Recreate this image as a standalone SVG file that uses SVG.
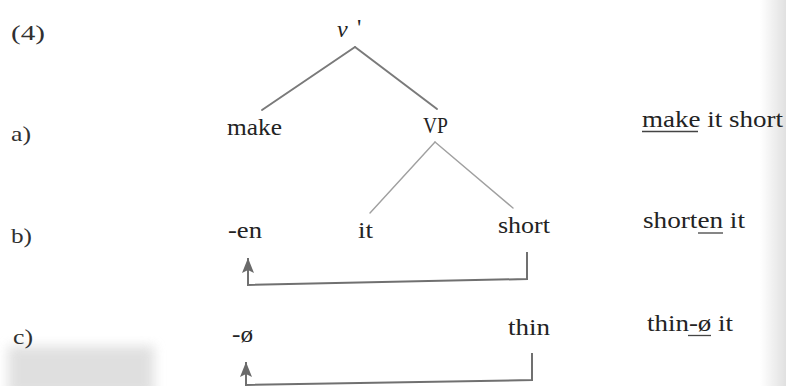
<svg xmlns="http://www.w3.org/2000/svg" width="786" height="386" viewBox="0 0 786 386">
<style>
.t{font-family:"Liberation Serif","Times New Roman",serif;font-size:24px;fill:#232323}
.lab{font-family:"Liberation Serif","Times New Roman",serif;font-size:21px;fill:#303030}
.tree{stroke:#7a7a7a;stroke-width:2;fill:none;stroke-linecap:round}
.tree2{stroke:#a0a0a0;stroke-width:1.4;fill:none;stroke-linecap:round}
.arr{stroke:#707070;stroke-width:2;fill:none}
.ul{stroke:#444;stroke-width:1.3}
</style>
<defs>
<marker id="ah" markerUnits="userSpaceOnUse" markerWidth="16" markerHeight="12" refX="15" refY="6" orient="auto" viewBox="0 0 16 12">
<path d="M0,0 L15,6 L0,12 L3,6 Z" fill="#6a6a6a"/>
</marker>
<filter id="blur" x="-20%" y="-20%" width="140%" height="140%"><feGaussianBlur stdDeviation="6"/></filter>
<linearGradient id="edge" x1="0" y1="0" x2="1" y2="0">
<stop offset="0" stop-color="#000" stop-opacity="0"/>
<stop offset="1" stop-color="#000" stop-opacity="0.12"/>
</linearGradient>
</defs>
<rect width="786" height="386" fill="#ffffff"/>
<rect x="760" y="0" width="26" height="386" fill="url(#edge)"/>
<rect x="8" y="346" width="146" height="50" fill="#dadada" opacity="0.85" filter="url(#blur)"/>

<g id="labels">
<text class="lab" x="11" y="40" textLength="34" lengthAdjust="spacingAndGlyphs">(4)</text>
<text class="lab" x="11" y="141" textLength="20" lengthAdjust="spacingAndGlyphs">a)</text>
<text class="lab" x="11" y="243" textLength="21" lengthAdjust="spacingAndGlyphs">b)</text>
<text class="lab" x="13" y="344" textLength="20" lengthAdjust="spacingAndGlyphs">c)</text>
</g>

<g id="connectors">
<line class="tree" x1="355" y1="47" x2="262" y2="110"/>
<line class="tree" x1="355" y1="47" x2="437" y2="109"/>
<line class="tree2" x1="435" y1="142" x2="370" y2="213"/>
<line class="tree2" x1="435" y1="142" x2="513" y2="208"/>
<path class="arr" d="M527,252 V279 L248,285 V258" marker-end="url(#ah)"/>
<path class="arr" d="M532,353 V380 L246,385 V362" marker-end="url(#ah)"/>
</g>

<g id="node-vbar"><text class="t" x="337" y="37" font-style="italic" font-size="22">v</text><text class="t" x="357" y="35" font-size="20">'</text></g>
<g id="node-make"><text class="t" x="227" y="135" textLength="55" lengthAdjust="spacingAndGlyphs">make</text></g>
<g id="node-VP"><text class="t" x="423" y="133" textLength="25" lengthAdjust="spacingAndGlyphs">VP</text></g>
<g id="node-en"><text class="t" x="228" y="238" textLength="34" lengthAdjust="spacingAndGlyphs">-en</text></g>
<g id="node-it"><text class="t" x="358" y="238" textLength="15" lengthAdjust="spacingAndGlyphs">it</text></g>
<g id="node-short"><text class="t" x="498" y="233" textLength="52" lengthAdjust="spacingAndGlyphs">short</text></g>
<g id="node-zero"><text class="t" x="232" y="342" textLength="21" lengthAdjust="spacingAndGlyphs">-ø</text></g>
<g id="node-thin"><text class="t" x="508" y="335" textLength="42" lengthAdjust="spacingAndGlyphs">thin</text></g>

<g id="glosses">
<text class="t" x="642" y="127" textLength="141" lengthAdjust="spacingAndGlyphs">make it short</text>
<line class="ul" x1="642" y1="131.5" x2="698" y2="131.5"/>
<text class="t" x="643" y="228" textLength="102" lengthAdjust="spacingAndGlyphs">shorten it</text>
<line class="ul" x1="698" y1="233" x2="723" y2="233"/>
<text class="t" x="647" y="331" textLength="86" lengthAdjust="spacingAndGlyphs">thin-ø it</text>
<line class="ul" x1="688" y1="335.5" x2="711" y2="335.5"/>
</g>
</svg>
